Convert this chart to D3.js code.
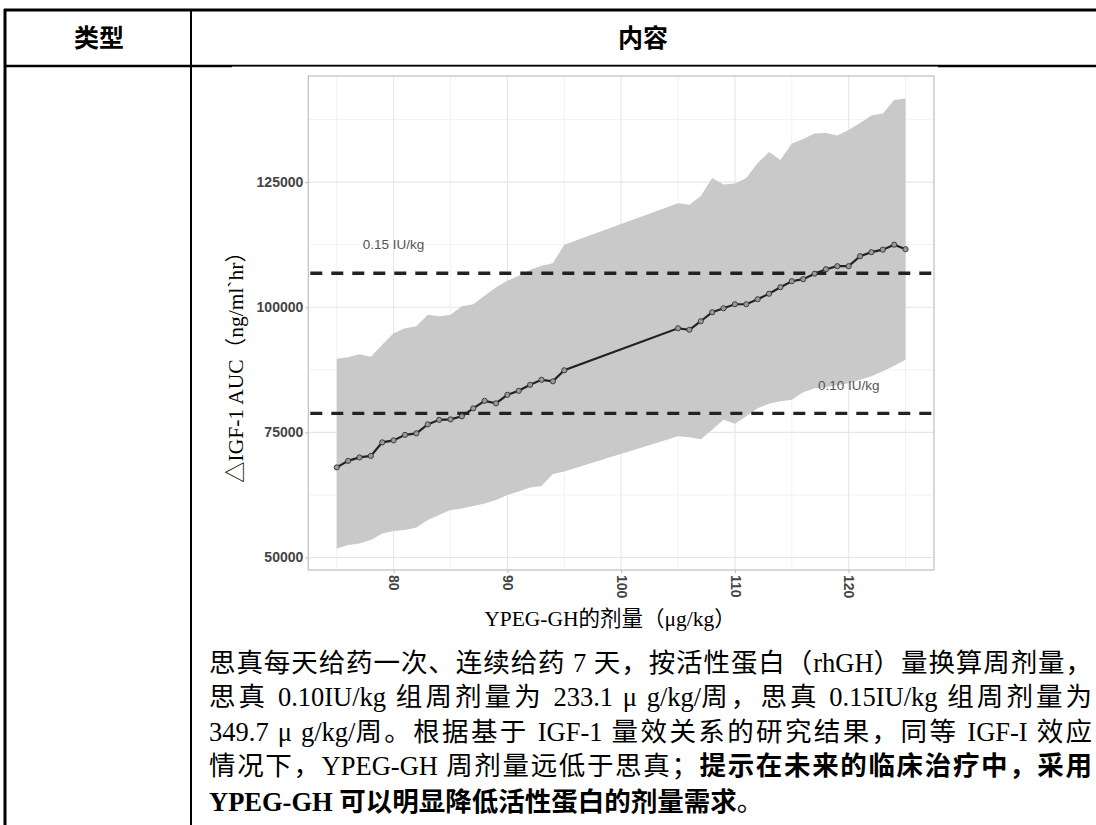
<!DOCTYPE html>
<html>
<head>
<meta charset="utf-8" />
<script src="https://d3js.org/d3.v7.min.js"></script>
<style>
  body { margin: 0; background: #fff; }
  svg { display: block; }
</style>
</head>
<body>
<div id="chart"></div>
<script>
// doses (µg/kg) of the simulated groups
var doses = [75, 76, 77, 78, 79, 80, 81, 82, 83, 84, 85, 86, 87, 88, 89, 90, 91, 92, 93, 94, 95,
             105, 106, 107, 108, 109, 110, 111, 112, 113, 114, 115, 116, 117, 118, 119, 120, 121, 122, 123, 124, 125];
// median delta IGF-1 AUC
var median = [68000, 69300, 70000, 70300, 73000, 73400, 74500, 74800, 76600, 77500, 77600, 78200, 79800, 81300, 80800, 82500, 83300, 84500, 85500, 85200, 87400,
              95800, 95500, 97200, 99000, 99800, 100600, 100600, 101600, 102700, 104000, 105200, 105600, 106700, 107600, 108200, 108200, 110200, 111000, 111500, 112500, 111600];
// ribbon limits
var upper = [89700, 90000, 90600, 90100, 92500, 94800, 95800, 96200, 98500, 98200, 98500, 100200, 100600, 102300, 104000, 105300, 106300, 107500, 108300, 108800, 112500,
             120800, 120500, 122200, 125800, 124500, 124700, 125800, 128800, 131000, 129400, 132700, 133600, 134700, 134800, 134300, 135400, 136800, 138300, 138700, 141400, 141700];
var lower = [51800, 52500, 52800, 53500, 54800, 55300, 55500, 56000, 57500, 58500, 59500, 59800, 60300, 60800, 61500, 62500, 63200, 64000, 64300, 66700, 67200,
             74200, 74000, 73600, 75500, 77500, 76700, 78200, 79800, 80700, 81200, 81500, 83000, 83800, 84000, 84400, 84800, 85500, 86200, 87200, 88300, 89500];

var xTicks = [80, 90, 100, 110, 120];
var xMinor = [75, 85, 95, 105, 115, 125];
var yTicks = [50000, 75000, 100000, 125000];
var yMinor = [62500, 87500, 112500, 137500];

// reference doses of the comparator
var refValues = [106800, 78800];
var refLabels = ["0.15 IU/kg", "0.10 IU/kg"];
var refLabelX = [80, 120];
var refLabelY = [112500, 84500];

var headers = ["类型", "内容"];
var paragraph = [
  [["思真每天给药一次、连续给药 7 天，按活性蛋白（rhGH）量换算周剂量，", false]],
  [["思真 0.10IU/kg 组周剂量为 233.1 μ g/kg/周，思真 0.15IU/kg 组周剂量为", false]],
  [["349.7 μ g/kg/周。根据基于 IGF-1 量效关系的研究结果，同等 IGF-I 效应", false]],
  [["情况下，YPEG-GH 周剂量远低于思真；", false], ["提示在未来的临床治疗中，采用", true]],
  [["YPEG-GH 可以明显降低活性蛋白的剂量需求", true], ["。", false]]
];

var W = 1096, H = 825;
var svg = d3.select("#chart").append("svg")
  .attr("width", W).attr("height", H);

var serif = "'Liberation Serif', 'Times New Roman', 'Noto Sans CJK SC', serif";
var sans = "'Liberation Sans', Arial, sans-serif";

// ---- table frame ----
svg.append("line").attr("x1", 4).attr("x2", W).attr("y1", 10).attr("y2", 10)
  .attr("stroke", "#000").attr("stroke-width", 3);
svg.append("line").attr("x1", 5).attr("x2", 5).attr("y1", 9).attr("y2", H)
  .attr("stroke", "#000").attr("stroke-width", 3);
svg.append("line").attr("x1", 191).attr("x2", 191).attr("y1", 10).attr("y2", H)
  .attr("stroke", "#000").attr("stroke-width", 2);
svg.append("line").attr("x1", 4).attr("x2", W).attr("y1", 66).attr("y2", 66)
  .attr("stroke", "#000").attr("stroke-width", 2.6);

svg.selectAll("text.head").data(headers).enter()
  .append("text")
  .attr("class", "head")
  .attr("x", function (d, i) { return i == 0 ? 99 : 643; })
  .attr("y", 38)
  .attr("dy", "0.36em")
  .attr("text-anchor", "middle")
  .style("font-family", "'Noto Sans CJK SC', sans-serif")
  .style("font-weight", "bold")
  .style("font-size", "25px")
  .text(function (d) { return d; });

// pasted picture background (sits slightly over the header rule)
svg.append("rect").attr("x", 232).attr("y", 66.6).attr("width", 706).attr("height", 573)
  .attr("fill", "#fff");

// ---- chart ----
var panel = { left: 308.3, right: 934, top: 76, bottom: 570 };

var x = d3.scaleLinear().domain([72.5, 127.5]).range([panel.left, panel.right]);
var y = d3.scaleLinear().domain([47500, 146200]).range([panel.bottom, panel.top]);

var data = doses.map(function (d, i) {
  return { dose: d, med: median[i], lo: lower[i], hi: upper[i] };
});

var g = svg.append("g");

// grid
g.selectAll("line.minx").data(xMinor).enter().append("line")
  .attr("x1", function (d) { return x(d); }).attr("x2", function (d) { return x(d); })
  .attr("y1", panel.top).attr("y2", panel.bottom)
  .attr("stroke", "#f0f0f0").attr("stroke-width", 0.9);
g.selectAll("line.miny").data(yMinor).enter().append("line")
  .attr("y1", function (d) { return y(d); }).attr("y2", function (d) { return y(d); })
  .attr("x1", panel.left).attr("x2", panel.right)
  .attr("stroke", "#f0f0f0").attr("stroke-width", 0.9);
g.selectAll("line.majx").data(xTicks).enter().append("line")
  .attr("x1", function (d) { return x(d); }).attr("x2", function (d) { return x(d); })
  .attr("y1", panel.top).attr("y2", panel.bottom)
  .attr("stroke", "#e6e6e6").attr("stroke-width", 1.1);
g.selectAll("line.majy").data(yTicks).enter().append("line")
  .attr("y1", function (d) { return y(d); }).attr("y2", function (d) { return y(d); })
  .attr("x1", panel.left).attr("x2", panel.right)
  .attr("stroke", "#e6e6e6").attr("stroke-width", 1.1);

// ribbon
var area = d3.area()
  .x(function (d) { return x(d.dose); })
  .y0(function (d) { return y(d.lo); })
  .y1(function (d) { return y(d.hi); });
g.append("path").datum(data).attr("d", area).attr("fill", "#c9c9c9");

// reference lines
g.selectAll("line.ref").data(refValues).enter().append("line")
  .attr("x1", panel.left + 2).attr("x2", panel.right - 2)
  .attr("y1", function (d) { return y(d); }).attr("y2", function (d) { return y(d); })
  .attr("stroke", "#222").attr("stroke-width", 3.4)
  .attr("stroke-dasharray", "12,9");

g.selectAll("text.ref").data(refLabels).enter().append("text")
  .attr("x", function (d, i) { return x(refLabelX[i]); })
  .attr("y", function (d, i) { return y(refLabelY[i]); })
  .attr("dy", "0.35em")
  .attr("text-anchor", "middle")
  .style("font-family", sans)
  .style("font-size", "13.5px")
  .style("fill", "#555")
  .text(function (d) { return d; });

// median line + points
var line = d3.line()
  .x(function (d) { return x(d.dose); })
  .y(function (d) { return y(d.med); });
g.append("path").datum(data).attr("d", line)
  .attr("fill", "none").attr("stroke", "#222").attr("stroke-width", 2.2);
g.selectAll("circle.pt").data(data).enter().append("circle")
  .attr("cx", function (d) { return x(d.dose); })
  .attr("cy", function (d) { return y(d.med); })
  .attr("r", 2.6)
  .attr("fill", "#9a9a9a")
  .attr("stroke", "#333").attr("stroke-width", 0.9);

// panel border
g.append("rect")
  .attr("x", panel.left).attr("y", panel.top)
  .attr("width", panel.right - panel.left).attr("height", panel.bottom - panel.top)
  .attr("fill", "none").attr("stroke", "#c4c4c4").attr("stroke-width", 1.3);

// axes
var yAxis = g.append("g")
  .attr("transform", "translate(" + panel.left + ",0)")
  .call(d3.axisLeft(y).tickValues(yTicks).tickSize(3).tickPadding(2).tickFormat(d3.format("d")));
var xAxis = g.append("g")
  .attr("transform", "translate(0," + panel.bottom + ")")
  .call(d3.axisBottom(x).tickValues(xTicks).tickSize(3).tickFormat(d3.format("d")));

[yAxis, xAxis].forEach(function (a) {
  a.select(".domain").remove();
  a.selectAll(".tick line").attr("stroke", "#bbb");
  a.selectAll("text")
    .style("font-family", sans)
    .style("font-weight", "bold")
    .style("font-size", "14px")
    .style("fill", "#444");
});

xAxis.selectAll("text")
  .attr("transform", "rotate(90)")
  .attr("x", 5)
  .attr("y", 0)
  .attr("dy", "0.35em")
  .style("text-anchor", "start");

// axis titles
g.append("text")
  .attr("x", 610).attr("y", 618)
  .attr("dy", "0.35em")
  .attr("text-anchor", "middle")
  .style("font-family", serif)
  .style("font-size", "21.5px")
  .text("YPEG-GH的剂量（μg/kg）");

g.append("text")
  .attr("transform", "translate(235,362) rotate(-90)")
  .attr("dy", "0.35em")
  .attr("text-anchor", "middle")
  .style("font-family", serif)
  .style("font-size", "21.5px")
  .text("△IGF-1 AUC（ng/ml`hr）");

// ---- paragraph (justified like the Word cell: extra room goes between CJK chars and spaces) ----
var cjk = /[\u3000-\u303f\u4e00-\u9fff\uff00-\uffef]/;
function splitRuns(str) {
  var out = [], cur = "", type = null;
  for (var ch of str) {
    var t = cjk.test(ch) ? "c" : (ch == " " ? "s" : "l");
    if (t != type && cur) { out.push([cur, type]); cur = ""; }
    cur += ch; type = t;
  }
  if (cur) out.push([cur, type]);
  return out;
}

var lineY = [672, 706, 741, 775, 811];
var textLeft = 209, textWidth = 883;
paragraph.forEach(function (parts, i) {
  var t = svg.append("text")
    .attr("x", textLeft)
    .attr("y", lineY[i])
    .style("font-family", serif)
    .style("font-size", "26.5px");
  var stretch = 0;
  parts.forEach(function (p) {
    splitRuns(p[0]).forEach(function (r) {
      t.append("tspan")
        .attr("class", r[1] == "l" ? "fixed" : "stretch")
        .style("font-weight", p[1] ? "bold" : "normal")
        .text(r[0]);
      if (r[1] != "l") stretch += r[0].length;
    });
  });
  if (i < 4) {
    var natural = t.node().getComputedTextLength();
    var extra = (textWidth - natural) / (stretch - 1);
    t.selectAll("tspan.stretch").style("letter-spacing", extra + "px");
  }
});
</script>
</body>
</html>
